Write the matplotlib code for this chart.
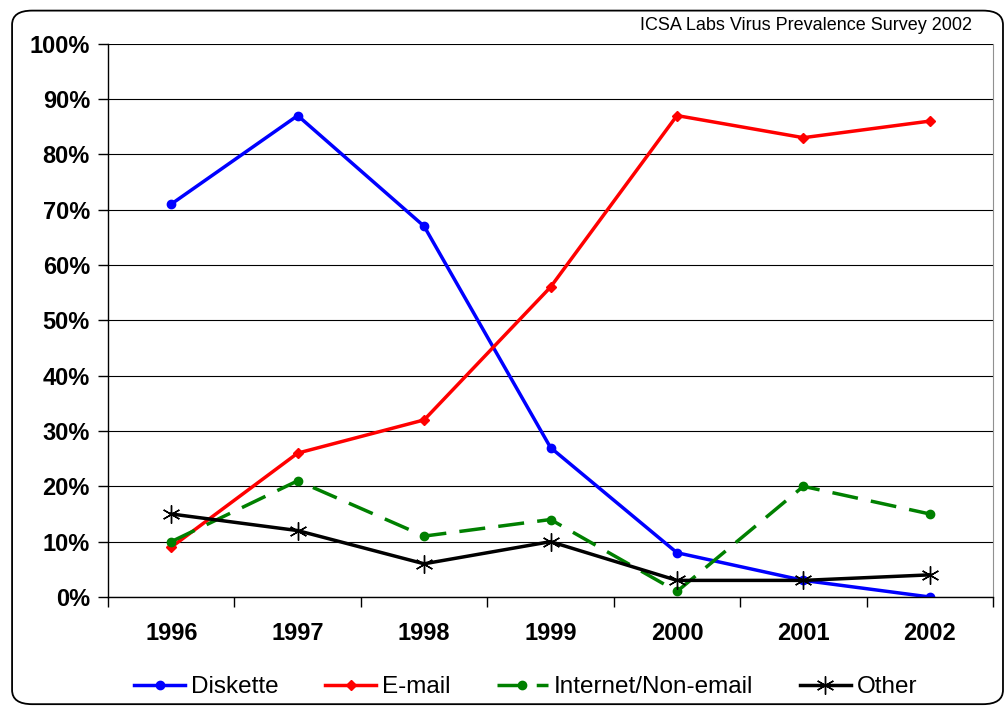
import matplotlib.pyplot as plt
from matplotlib.patches import FancyBboxPatch
from matplotlib.ticker import FixedLocator, NullFormatter

plt.rcParams['font.family'] = ['Liberation Sans', 'DejaVu Sans']

years = ['1996', '1997', '1998', '1999', '2000', '2001', '2002']
diskette = [71, 87, 67, 27, 8, 3, 0]
email = [9, 26, 32, 56, 87, 83, 86]
internet = [10, 21, 11, 14, 1, 20, 15]
other = [15, 12, 6, 10, 3, 3, 4]

fig = plt.figure(figsize=(10.06, 7.07), dpi=100)
ax = fig.add_axes([0.1074, 0.1556, 0.8797, 0.7827])

x = range(len(years))
ax.plot(x, diskette, color='#0000ff', lw=2.5, marker='o', ms=6, label='Diskette')
ax.plot(x, email, color='#ff0000', lw=2.5, marker='D', ms=5.5, label='E-mail')
ax.plot(x, internet, color='#008000', lw=2.5, ls=(0, (7.5, 3.8)), marker='o', ms=6,
        label='Internet/Non-email')
ax.plot(x, other, color='black', lw=2.5, marker=(6, 2, 0), ms=13, mew=1,
        label='Other')

ax.set_xlim(-0.5, len(years) - 0.5)
ax.set_ylim(0, 100)
ax.set_yticks(range(0, 101, 10))
ax.set_yticklabels([f'{v}%' for v in range(0, 101, 10)], fontsize=17, fontweight='bold')
ax.set_xticks(list(x))
ax.set_xticklabels(years, fontsize=17, fontweight='bold')
ax.tick_params(axis='x', length=0, pad=18)
ax.xaxis.set_minor_locator(FixedLocator([i - 0.5 for i in range(len(years) + 1)]))
ax.xaxis.set_minor_formatter(NullFormatter())
ax.tick_params(axis='x', which='minor', length=7, width=1, direction='out')
ax.tick_params(axis='y', length=7, width=1, direction='out', pad=6)
ax.grid(axis='y', color='black', lw=0.8)
ax.set_axisbelow(True)
ax.spines['right'].set_color('#909090')
ax.spines['top'].set_visible(False)
ax.spines['left'].set_linewidth(1)
ax.spines['bottom'].set_linewidth(1)

fig.text(0.966, 0.964, 'ICSA Labs Virus Prevalence Survey 2002', ha='right', va='center',
         fontsize=13)

ax.legend(loc='center', bbox_to_anchor=(0.472, -0.163), ncol=4, frameon=False,
          fontsize=17.5, handlelength=2.1, handletextpad=0.25, columnspacing=1.9)

border = FancyBboxPatch((0.012, 0.004), 0.985, 0.981, boxstyle='round,pad=0,rounding_size=0.02',
                        transform=fig.transFigure, fill=False, edgecolor='black', lw=1.3)
fig.patches.append(border)

fig.savefig('out.png', dpi=100)
